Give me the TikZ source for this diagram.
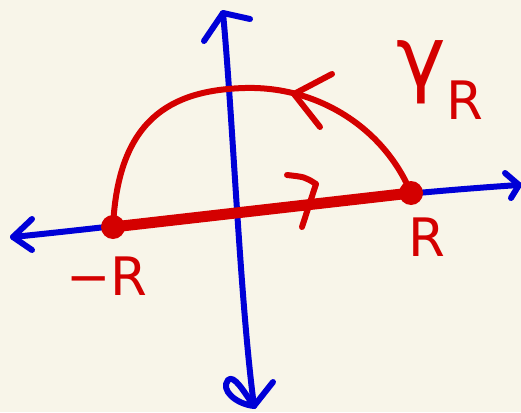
\documentclass[tikz,border=0pt]{standalone}
\usepackage{fontspec}
\newfontfamily\handfont{DejaVu Sans}
\usepackage{tikz}
\usetikzlibrary{positioning}
\definecolor{bgcream}{RGB}{248,245,233}
\definecolor{axisblue}{RGB}{0,0,215}
\definecolor{pathred}{RGB}{212,0,0}
\begin{document}
\begin{tikzpicture}[
  x=1pt, y=-1pt,
  axisline/.style={draw=axisblue, line width=6pt, line cap=round, line join=round},
  contour/.style={draw=pathred, line width=6pt, line cap=round, line join=round},
  segline/.style={contour, line width=11pt},
  enddot/.style={circle, fill=pathred, inner sep=0pt, minimum size=24pt},
  lbl/.style={text=pathred, inner sep=0pt, font=\fontsize{53}{53}\selectfont\handfont},
]
% --- Canvas ---
\useasboundingbox (0,0) rectangle (521,412);
\fill[bgcream] (0,0) rectangle (521,412);
% --- Axes ---
\coordinate (xleft) at (13,237);
\coordinate (xright) at (519,185);
\coordinate (ytop) at (223,13);
\coordinate (ybot) at (254,406);
\draw[axisline] (xleft) .. controls (180,220) and (350,196) .. (xright);
\draw[axisline] (32,219) -- (xleft) -- (32,250);
\draw[axisline] (505,173) -- (xright) -- (511,198);
\draw[axisline] (ytop) .. controls (233,120) and (240,300) .. (ybot);
\draw[axisline] (204,41) -- (ytop) -- (250,19);
\draw[axisline] (ybot) .. controls (236,404) and (220,390) .. (228,380)
  .. controls (234,374) and (244,392) .. (ybot);
\draw[axisline] (ybot) -- (273,382);
% --- End points ---
\node[enddot] (mR) at (113,227) {};
\node[enddot] (pR) at (411,193) {};
% --- Contour ---
\draw[contour] (mR.center) .. controls (118,120) and (170,90) .. (245,88)
  .. controls (320,86) and (385,130) .. (pR.center);
\draw[contour] (332,74) -- (294,94) -- (320,127);
\draw[segline] (mR.center) -- (pR.center);
\draw[contour] (287,175) .. controls (305,177) .. (316,184) -- (302,227);
% --- Labels ---
\node[lbl, below=12pt of pR, xshift=16pt] (pRlbl) {R};
\node[lbl, below=17pt of mR, xshift=-6pt] (mRlbl) {−R};
\node[lbl, font=\fontsize{84}{84}\selectfont\handfont] (gammalbl) at (440,80)
  {γ\raisebox{-0.4em}{\fontsize{53}{53}\selectfont R}};
\end{tikzpicture}
\end{document}
